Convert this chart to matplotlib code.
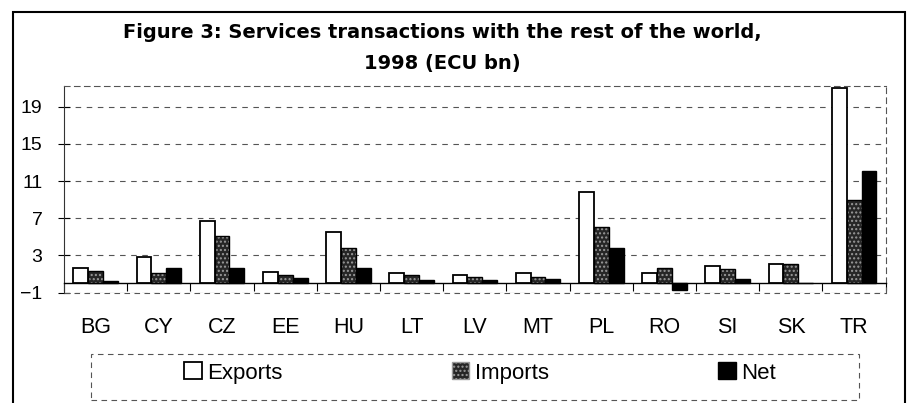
import numpy as np
import matplotlib.pyplot as plt
from matplotlib.patches import Patch, Rectangle

plt.rcParams['font.family'] = ['Liberation Sans', 'DejaVu Sans']

countries = ["BG", "CY", "CZ", "EE", "HU", "LT", "LV", "MT", "PL", "RO", "SI", "SK", "TR"]
exports = [1.7, 2.8, 6.75, 1.25, 5.5, 1.1, 0.9, 1.15, 9.8, 1.1, 1.9, 2.05, 21.0]
imports = [1.3, 1.15, 5.1, 0.95, 3.85, 0.95, 0.7, 0.7, 6.1, 1.7, 1.55, 2.05, 9.0]
net = [0.3, 1.7, 1.7, 0.55, 1.7, 0.35, 0.35, 0.5, 3.85, -0.75, 0.5, 0.0, 12.1]
y_ticks = [-1, 3, 7, 11, 15, 19]

W, H = 907, 403
fig = plt.figure(figsize=(W / 100, H / 100), dpi=100)
ax = fig.add_axes([64 / W, 1 - 292.7 / H, (885.7 - 64) / W, (292.7 - 85.7) / H])

x = np.arange(len(countries))
bw = 0.235
ax.bar(x - bw, exports, bw, facecolor="white", edgecolor="black", linewidth=1.3, zorder=3)
ax.bar(x, imports, bw, facecolor="#262626", edgecolor="#9a9a9a", hatch="....", linewidth=0, zorder=3)
ax.bar(x, imports, bw, fill=False, edgecolor="black", linewidth=1.0, zorder=4)
ax.bar(x + bw, net, bw, facecolor="black", edgecolor="black", linewidth=1.0, zorder=3)

ax.set_xlim(-0.5, len(countries) - 0.5)
ax.set_ylim(-1, 21.25)
ax.set_yticks(y_ticks)
ax.yaxis.grid(True, color="#555555", linestyle=(0, (5, 5)), linewidth=0.8)
ax.set_axisbelow(True)
ax.tick_params(axis="y", direction="inout", length=9, width=0.8, pad=11, labelsize=14)

# category axis crosses at zero
ax.spines["bottom"].set_position(("data", 0))
ax.spines["bottom"].set_linewidth(1.0)
ax.set_xticks(np.arange(len(countries) + 1) - 0.5)
ax.set_xticklabels([])
ax.tick_params(axis="x", which="major", direction="out", length=6, width=0.8)
ax.set_xticks(x, minor=True)
ax.set_xticklabels(countries, minor=True)
ax.tick_params(axis="x", which="minor", length=0, pad=24, labelsize=15.5)

for s in ["top", "right"]:
    ax.spines[s].set_color("#555555")
    ax.spines[s].set_linestyle((0, (5, 4)))
    ax.spines[s].set_linewidth(0.8)
ax.spines["left"].set_color("#333333")
ax.spines["left"].set_linewidth(0.8)
ax.axhline(-1, color="#555555", linestyle=(0, (5, 4)), linewidth=0.8, clip_on=False)

# title
title_font = dict(ha="center", va="center", fontsize=14, fontweight="bold", family="DejaVu Sans")
fig.text(442 / W, 1 - 33 / H, "Figure 3: Services transactions with the rest of the world,", **title_font)
fig.text(442 / W, 1 - 63 / H, "1998 (ECU bn)", **title_font)

# outer chart frame
fig.add_artist(Rectangle((13 / W, -0.05), (905 - 13) / W, 1.05 - 12 / H,
                         transform=fig.transFigure, fill=False, edgecolor="black", linewidth=1.5))

# legend
handles = [
    Patch(facecolor="white", edgecolor="black", linewidth=1.3, label="Exports"),
    Patch(facecolor="#262626", edgecolor="#9a9a9a", hatch="....", label="Imports"),
    Patch(facecolor="black", edgecolor="black", label="Net"),
]
fig.legend(handles=handles, loc="center", bbox_to_anchor=(480 / W, 1 - 373 / H), ncol=3,
           frameon=False, fontsize=16, handlelength=0.8, handleheight=0.8,
           handletextpad=0.25, columnspacing=7.6)
fig.add_artist(Rectangle((91 / W, 1 - 400 / H), (859 - 91) / W, (400 - 354) / H,
                         transform=fig.transFigure, fill=False, edgecolor="#555555",
                         linestyle=(0, (5, 4)), linewidth=0.8))

fig.savefig("out.png", dpi=100)
